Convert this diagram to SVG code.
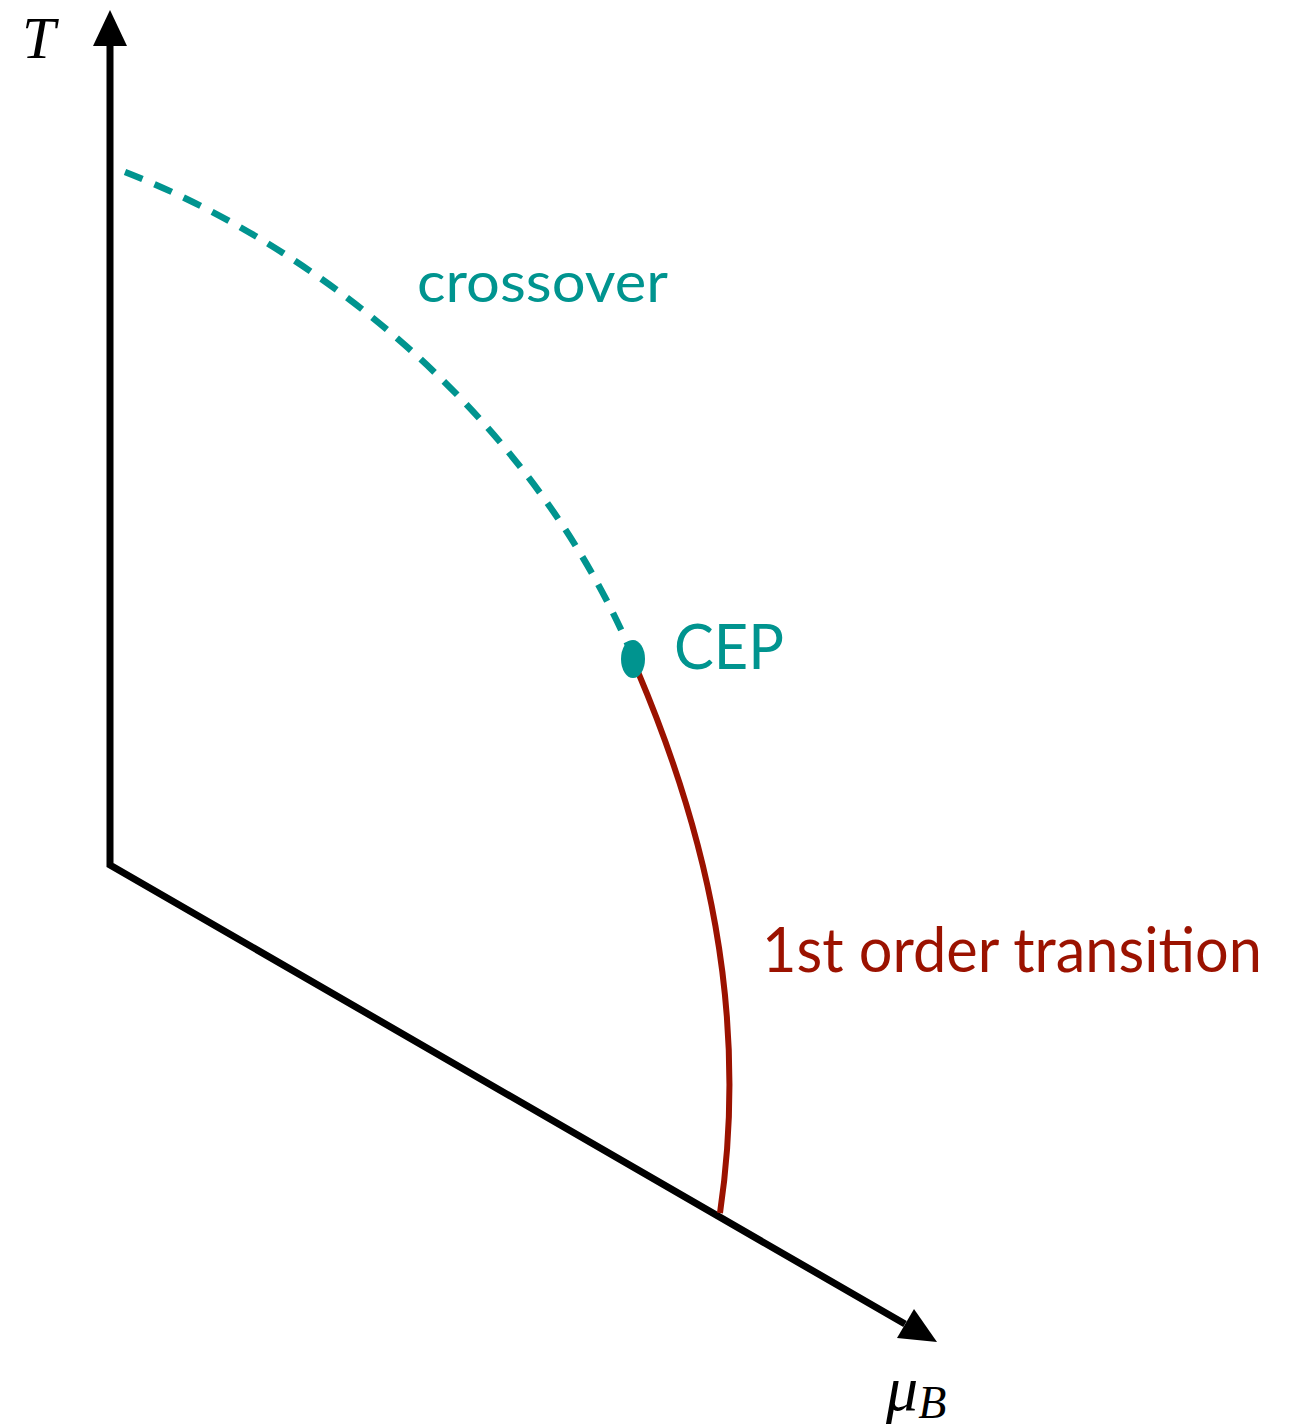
<svg xmlns="http://www.w3.org/2000/svg" width="1295" height="1427" viewBox="0 0 1295 1427">
<style>
.axis{fill:none;stroke:#000;stroke-width:7}
.teal{fill:#00948f}
.lbl{font-family:Lato,"Open Sans",sans-serif}
.math{font-family:"Liberation Serif","DejaVu Serif",serif;font-style:italic}
</style>
<rect width="1295" height="1427" fill="#fff"/>
<g id="connectors">
<polyline class="axis" points="110,42 110,865 905,1324"/>
<polygon points="110,10 93,46 127,46" fill="#000"/>
<polygon points="937,1342 897,1338 914,1309" fill="#000"/>
<path d="M125,172 C300,240 520,400 628,645" fill="none" stroke="#00948f" stroke-width="6.5" stroke-dasharray="19,13"/>
<path d="M638,672 C705,830 750,1010 720,1213" fill="none" stroke="#9b1200" stroke-width="6"/>
</g>
<g id="axis-T"><text class="math" x="22" y="58" font-size="60">T</text></g>
<g id="axis-muB"><text class="math" x="886" y="1410" font-size="64">μ<tspan font-size="46" dy="8">B</tspan></text></g>
<g id="crossover"><text class="lbl" x="417" y="302" font-size="56" fill="#00948f" textLength="251" lengthAdjust="spacingAndGlyphs">crossover</text></g>
<g id="CEP"><ellipse class="teal" cx="633" cy="659" rx="12" ry="19"/><text class="lbl" x="674" y="669" font-size="62" fill="#00948f" textLength="110" lengthAdjust="spacingAndGlyphs">CEP</text></g>
<g id="first-order"><text class="lbl" x="762" y="972" font-size="62" fill="#9b1200" textLength="500" lengthAdjust="spacingAndGlyphs">1st order transition</text></g>
</svg>
